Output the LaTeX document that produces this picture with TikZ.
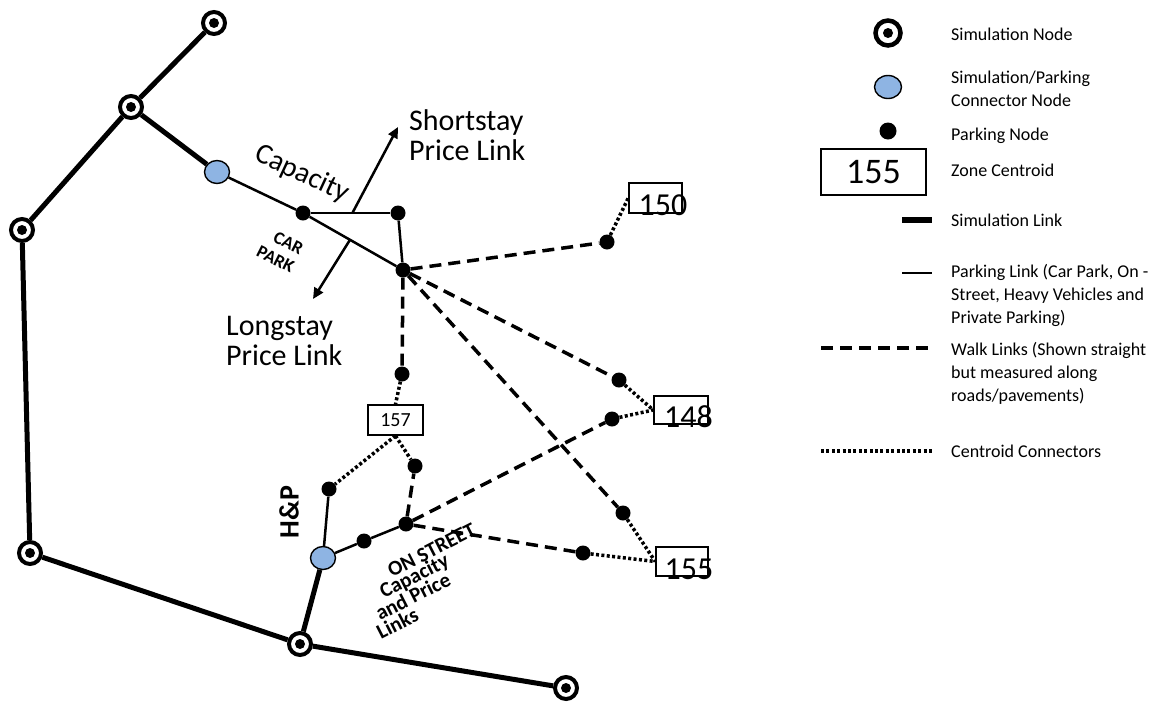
\documentclass[tikz,border=0pt]{standalone}
\usepackage{fontspec}
\setmainfont{Carlito}
\usetikzlibrary{shapes.geometric,arrows.meta,calc}
\definecolor{nodeblue}{RGB}{142,180,227}
\begin{document}
\begin{tikzpicture}[x=1pt,y=-1pt,
  simnode/.style={circle,draw,line width=4pt,fill=white,minimum size=22pt,inner sep=0pt,
    path picture={\fill[black] (path picture bounding box.center) circle (5pt);}},
  connode/.style={ellipse,draw,line width=1.4pt,fill=nodeblue,minimum width=25pt,minimum height=23pt,inner sep=0pt},
  parknode/.style={circle,fill=black,minimum size=15pt,inner sep=0pt},
  zonebox/.style={draw,line width=1.5pt,inner sep=0pt},
  zonetext/.style={inner sep=0pt,font=\fontsize{32}{34}\selectfont},
  simlink/.style={line width=5pt},
  parklink/.style={line width=2.5pt},
  walklink/.style={line width=3.5pt,dash pattern=on 12pt off 7pt},
  centlink/.style={line width=3.5pt,dash pattern=on 3pt off 2.4pt},
  pricearrow/.style={line width=2.5pt,-{Triangle[length=11pt,width=10pt]}},
  bigtext/.style={inner sep=0pt,align=left,font=\fontsize{30}{30}\selectfont},
  legtext/.style={inner sep=0pt,anchor=base west,align=left,font=\fontsize{18}{22.7}\selectfont},
  boldlab/.style={inner sep=0pt,font=\bfseries\fontsize{21}{22}\selectfont}
]
\useasboundingbox (0,0) rectangle (1162,702);

% simulation nodes
\node[simnode] (S1) at (214,23) {};
\node[simnode] (S2) at (131,107) {};
\node[simnode] (S3) at (22,230) {};
\node[simnode] (S4) at (30,553) {};
\node[simnode] (S5) at (300,644) {};
\node[simnode] (S6) at (566,688) {};
% connector nodes
\node[connode] (C1) at (217,172) {};
\node[connode] (C2) at (323,558) {};
% parking nodes
\node[parknode] (P1) at (303,213) {};
\node[parknode] (P2) at (398,213) {};
\node[parknode] (P3) at (403,270) {};
\node[parknode] (P4) at (402,374) {};
\node[parknode] (P5) at (607,242) {};
\node[parknode] (P6) at (619,380) {};
\node[parknode] (P7) at (612,419) {};
\node[parknode] (P8) at (623,513) {};
\node[parknode] (P9) at (583,553) {};
\node[parknode] (P10) at (415,466) {};
\node[parknode] (P11) at (329,489) {};
\node[parknode] (P12) at (364,541) {};
\node[parknode] (P13) at (406,524) {};
% zone centroids
\node[zonebox,minimum width=53pt,minimum height=30pt] (z150) at (655.5,198) {};
\node[zonetext] (t150) at (663,205.5) {150};
\node[zonebox,minimum width=54pt,minimum height=28pt] (z148) at (681,410) {};
\node[zonetext] (t148) at (688.5,417) {148};
\node[zonebox,minimum width=52pt,minimum height=29pt] (z155) at (682,561.5) {};
\node[zonetext] (t155) at (689,569) {155};
\node[zonebox,minimum width=55pt,minimum height=30pt,font=\fontsize{20}{22}\selectfont] (z157) at (395.5,420) {157};

% simulation links
\draw[simlink] (S1) -- (S2);
\draw[simlink] (S2) -- (S3);
\draw[simlink] (S2) -- (C1);
\draw[simlink] (S3) -- (S4);
\draw[simlink] (S4) -- (S5);
\draw[simlink] (S5) -- (C2);
\draw[simlink] (S5) -- (S6);
% parking links
\draw[parklink] (C1) -- (P1);
\draw[parklink] (P1) -- (P3);
\draw[parklink] (P1) -- (P2);
\draw[parklink] (P2) -- (P3);
\draw[parklink] (C2) -- (P11);
\draw[parklink] (C2) -- (P12);
\draw[parklink] (P12) -- (P13);
% walk links
\draw[walklink] (P3) -- (P5);
\draw[walklink] (P3) -- (P6);
\draw[walklink] (P3) -- (P8);
\draw[walklink] (P3) -- (P4);
\draw[walklink] (P13) -- (P10);
\draw[walklink] (P13) -- (P7);
\draw[walklink] (P13) -- (P9);
% centroid connectors
\draw[centlink] (P5) -- (z150.west);
\draw[centlink] (P6) -- (z148.west);
\draw[centlink] (P7) -- (z148.west);
\draw[centlink] (P8) -- (z155.west);
\draw[centlink] (P9) -- (z155.west);
\draw[centlink] (P4) -- (z157.north);
\draw[centlink] (z157.south) -- (P11);
\draw[centlink] (z157.south) -- (P10);

% price arrows
\coordinate (aS) at ($(P1)!0.52!(P2)$);
\coordinate (aSe) at (398,127);
\draw[pricearrow] (aS) -- (aSe);
\coordinate (aL) at ($(P1)!0.47!(P3)$);
\coordinate (aLe) at (313,299);
\draw[pricearrow] (aL) -- (aLe);

% labels (base = last line baseline)
\node[bigtext,anchor=base west] (short) at (409,160) {Shortstay\\Price Link};
\node[bigtext,anchor=base west] (long) at (226,365) {Longstay\\Price Link};
\node[inner sep=0pt,rotate=-25,font=\fontsize{29}{30}\selectfont] (cap) at (302,174) {Capacity};
\node[inner sep=0pt,rotate=-27,align=right,font=\bfseries\fontsize{18}{20}\selectfont] (carpark) at (280,250) {CAR\\PARK};
\node[inner sep=0pt,rotate=90,font=\bfseries\fontsize{28}{30}\selectfont] (hp) at (289,512) {H\&P};
\node[boldlab,rotate=27,anchor=base west] (os1) at (392,578) {ON STREET};
\node[boldlab,rotate=27,anchor=base west] (os2) at (384,599) {Capacity};
\node[boldlab,rotate=27,anchor=base west] (os3) at (380,621) {and Price};
\node[boldlab,rotate=27,anchor=base west] (os4) at (381,640) {Links};

% legend
\node[simnode,minimum size=25pt,line width=4.5pt] (lg1) at (888,33) {};
\node[connode,minimum width=27pt,minimum height=23pt] (lg2) at (888,87) {};
\node[parknode,minimum size=17pt] (lg3) at (888,131) {};
\node[zonebox,minimum width=105pt,minimum height=46pt,font=\fontsize{36}{38}\selectfont] (lg4) at (873.5,172) {155};
\coordinate (lsA) at (902,220); \coordinate (lsB) at (932,220);
\draw[line width=6pt] (lsA) -- (lsB);
\coordinate (lpA) at (902,273); \coordinate (lpB) at (932,273);
\draw[parklink] (lpA) -- (lpB);
\coordinate (lwA) at (821,348); \coordinate (lwB) at (932,348);
\draw[walklink] (lwA) -- (lwB);
\coordinate (lcA) at (821,451); \coordinate (lcB) at (932,451);
\draw[centlink] (lcA) -- (lcB);

\node[legtext] (lt1) at (951,40) {Simulation Node};
\node[legtext] (lt2) at (951,106) {Simulation/Parking\\Connector Node};
\node[legtext] (lt3) at (951,140) {Parking Node};
\node[legtext] (lt4) at (951,176) {Zone Centroid};
\node[legtext] (lt5) at (951,226) {Simulation Link};
\node[legtext] (lt6) at (951,323) {Parking Link (Car Park, On -\\Street, Heavy Vehicles and\\Private Parking)};
\node[legtext] (lt7) at (951,401) {Walk Links (Shown straight\\but measured along\\roads/pavements)};
\node[legtext] (lt8) at (951,457) {Centroid Connectors};
\end{tikzpicture}
\end{document}
